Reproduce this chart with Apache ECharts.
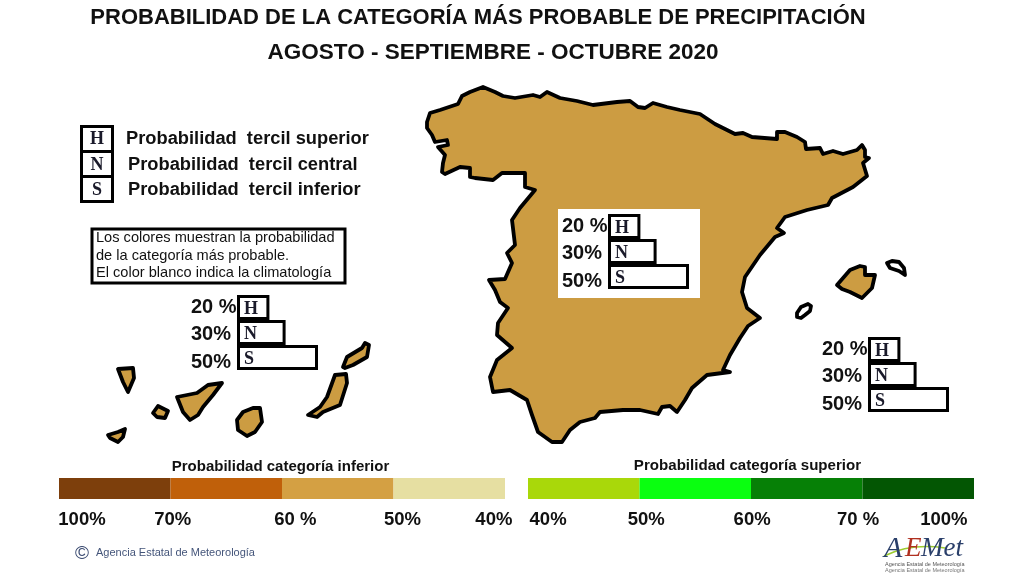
<!DOCTYPE html>
<html>
<head>
<meta charset="utf-8">
<style>
  html, body { margin: 0; padding: 0; background: #fff; }
  #main { width: 1024px; height: 576px; }
</style>
<script src="https://cdn.jsdelivr.net/npm/echarts@6/dist/echarts.min.js"></script>
</head>
<body>
<div id="main"></div>
<script>
// 地图轮廓 outlines
var peninsula = [[427,122],[430,113],[440,110],[458,104],[462,96],[470,92],[483,87],[495,92],[503,96],[515,98],[533,95],[540,97],[547,92],[560,98],[577,101],[593,105],[617,102],[630,101],[638,107],[645,108],[653,103],[667,107],[680,110],[700,114],[715,124],[727,130],[735,134],[743,133],[752,137],[777,139],[777,132],[785,132],[797,137],[805,142],[806,149],[820,148],[823,154],[833,151],[843,154],[857,150],[862,145],[865,150],[865,157],[869,158],[863,163],[867,176],[853,187],[832,198],[828,205],[807,210],[785,217],[777,228],[784,233],[775,237],[760,255],[745,277],[742,292],[747,308],[760,318],[748,326],[740,338],[730,355],[723,370],[730,372],[707,375],[692,388],[685,400],[677,412],[670,406],[662,407],[658,414],[640,410],[623,410],[600,412],[595,418],[580,422],[570,430],[562,442],[552,442],[538,432],[532,415],[527,400],[510,390],[493,392],[490,377],[497,360],[512,348],[497,335],[498,323],[508,308],[500,302],[495,290],[489,280],[505,279],[512,263],[507,253],[515,245],[512,220],[520,208],[535,190],[525,187],[525,173],[502,173],[493,180],[475,178],[470,177],[470,168],[460,167],[445,174],[442,172],[443,163],[445,155],[438,147],[448,145],[447,140],[435,142],[432,135],[427,128]];
var mallorca = [[837,285],[850,270],[860,266],[865,267],[865,275],[875,275],[872,288],[862,298],[850,292],[842,289]];
var menorca = [[887,263],[892,261],[899,262],[904,268],[905,275],[899,271],[890,268]];
var ibiza = [[797,313],[801,307],[808,304],[811,306],[810,311],[805,315],[801,318],[797,317]];
var laPalma = [[118,369],[133,368],[134,378],[128,392],[123,382]];
var tenerife = [[177,397],[197,393],[208,385],[222,383],[213,395],[203,407],[198,415],[190,420],[183,412]];
var gomera = [[158,406],[168,411],[165,418],[157,417],[153,413]];
var hierro = [[108,435],[118,432],[125,429],[123,437],[118,442],[110,438]];
var granCanaria = [[243,412],[253,408],[260,408],[262,422],[255,432],[247,436],[238,430],[237,420]];
var fuerteventura = [[335,375],[346,374],[347,383],[340,405],[323,412],[317,417],[308,415],[320,407],[327,397]];
var lanzarote = [[343,367],[347,357],[362,348],[365,343],[369,345],[367,357],[353,365],[345,368]];

// 概率柱
var tercilLetters = ["H", "N", "S"];
var tercilValues = [20, 30, 50];
var tercilLabels = ["20 %", "30%", "50%"];

// 色标
var lowerTicks = ["100%", "70%", "60 %", "50%", "40%"];
var lowerColors = ["#7d3f0c", "#c0600a", "#d4a043", "#e6dfa2"];
var upperTicks = ["40%", "50%", "60%", "70 %", "100%"];
var upperColors = ["#a9d80a", "#0aff10", "#068006", "#035603"];
var binWidth = [1, 1, 1, 1];

var FONT = '"Liberation Sans", Arial, sans-serif';
var SERIF = '"Liberation Serif", "Times New Roman", serif';
var MAPFILL = "#cc9c42";

function feature(name, points) {
  var ring = points.map(function (p) { return [p[0], 576 - p[1]]; });
  ring.push(ring[0]);
  return { type: "Feature", properties: { name: name }, geometry: { type: "Polygon", coordinates: [ring] } };
}

var shapes = {
  "Peninsula": peninsula, "Mallorca": mallorca, "Menorca": menorca, "Ibiza": ibiza,
  "La Palma": laPalma, "Tenerife": tenerife, "La Gomera": gomera, "El Hierro": hierro,
  "Gran Canaria": granCanaria, "Fuerteventura": fuerteventura, "Lanzarote": lanzarote
};
var names = Object.keys(shapes);
var allPoints = [];
names.forEach(function (n) { allPoints = allPoints.concat(shapes[n]); });
var xs = allPoints.map(function (p) { return p[0]; });
var ys = allPoints.map(function (p) { return p[1]; });
var minX = Math.min.apply(null, xs), maxX = Math.max.apply(null, xs);
var minY = Math.min.apply(null, ys), maxY = Math.max.apply(null, ys);

echarts.registerMap("spain", {
  type: "FeatureCollection",
  features: names.map(function (n) { return feature(n, shapes[n]); })
});

var myChart = echarts.init(document.getElementById("main"));

// 三组 H N S 柱子
var tercilGroups = [
  { left: 237, top: 295 },
  { left: 608, top: 214 },
  { left: 868, top: 337 }
];

// 百分比文字左对齐, 50% 的文字比柱子中心低一点
function pctRich() {
  var base = { fontFamily: FONT, fontWeight: "bold", fontSize: 20, color: "#111", width: 46, align: "left" };
  return {
    r0: Object.assign({}, base),
    r1: Object.assign({}, base, { padding: [3, 0, 0, 0] }),
    r2: Object.assign({}, base, { padding: [9, 0, 0, 0] })
  };
}

var grids = [], xAxes = [], yAxes = [], series = [];

tercilGroups.forEach(function (g, i) {
  grids.push({ left: g.left, top: g.top, width: 81, height: 75 });
  xAxes.push({ type: "value", gridIndex: i, min: 0, max: 50, show: false });
  yAxes.push({
    type: "category", gridIndex: i, inverse: true, z: 3,
    data: tercilLabels,
    axisLine: { show: false }, axisTick: { show: false },
    axisLabel: {
      margin: 0, rich: pctRich(),
      formatter: function (v, k) { return "{r" + k + "|" + v + "}"; }
    }
  });
  series.push({
    type: "bar", xAxisIndex: i, yAxisIndex: i, z: 3,
    barCategoryGap: 0,
    data: tercilValues,
    itemStyle: { color: "#fff", borderColor: "#000", borderWidth: 3 },
    label: {
      show: true, position: "insideLeft", distance: 7, offset: [0, 2],
      fontFamily: SERIF, fontWeight: "bold", fontSize: 18, color: "#1a1a2a",
      formatter: function (p) { return tercilLetters[p.dataIndex]; }
    }
  });
});

// 两条色标
function addScale(index, left, ticks, tickPos, colors) {
  grids.push({ left: left, top: 478, width: 446, height: 21 });
  xAxes.push({
    type: "value", gridIndex: index, min: 0, max: 4,
    axisLine: { show: false }, axisTick: { show: false }, splitLine: { show: false },
    axisLabel: {
      customValues: tickPos, margin: 11, hideOverlap: false,
      fontFamily: FONT, fontWeight: "bold", fontSize: 18.5, color: "#111",
      formatter: function (v) { return ticks[tickPos.indexOf(v)]; }
    }
  });
  yAxes.push({ type: "category", gridIndex: index, data: ["x"], show: false });
  colors.forEach(function (c, k) {
    series.push({
      type: "bar", xAxisIndex: index, yAxisIndex: index, stack: "s" + index,
      barCategoryGap: 0, data: [binWidth[k]], itemStyle: { color: c }
    });
  });
}
addScale(3, 59, lowerTicks, [0.206, 1.02, 2.12, 3.08, 3.9], lowerColors);
addScale(4, 528, upperTicks, [0.18, 1.06, 2.01, 2.96, 3.73], upperColors);

function text(x, y, str, size, opt) {
  opt = opt || {};
  return {
    type: "text", x: x, y: y, z: 5,
    style: {
      text: str, fontFamily: opt.family || FONT, fontSize: size,
      fontWeight: opt.weight || "normal", fontStyle: opt.style || "normal",
      fill: opt.fill || "#111", align: opt.align || "left", verticalAlign: "middle"
    }
  };
}
function box(x, y, w, h, lw) {
  return { type: "rect", z: 4, shape: { x: x, y: y, width: w, height: h }, style: { fill: "#fff", stroke: "#000", lineWidth: lw } };
}

var option = {
  animation: false,
  backgroundColor: "#fff",
  title: [
    { text: "PROBABILIDAD DE LA CATEGORÍA MÁS PROBABLE DE PRECIPITACIÓN", left: 473, top: 2, textAlign: "center",
      textStyle: { fontFamily: FONT, fontWeight: "bold", fontSize: 22, color: "#111" } },
    { text: "AGOSTO - SEPTIEMBRE - OCTUBRE 2020", left: 488, top: 36, textAlign: "center",
      textStyle: { fontFamily: FONT, fontWeight: "bold", fontSize: 22.5, color: "#111" } },
    { text: "Probabilidad categoría inferior", left: 275.5, top: 454, textAlign: "center",
      textStyle: { fontFamily: FONT, fontWeight: "bold", fontSize: 15, color: "#111" } },
    { text: "Probabilidad categoría superior", left: 742.5, top: 453, textAlign: "center",
      textStyle: { fontFamily: FONT, fontWeight: "bold", fontSize: 15.1, color: "#111" } }
  ],
  geo: {
    map: "spain", roam: false, silent: true, aspectScale: 1, z: 0,
    left: minX, top: minY, width: maxX - minX, height: maxY - minY,
    label: { show: false },
    itemStyle: { areaColor: MAPFILL, borderColor: "#000", borderWidth: 3.8, borderJoin: "round" },
    regions: [
      { name: "Menorca", itemStyle: { areaColor: "#fff" } },
      { name: "Ibiza", itemStyle: { areaColor: "#fff" } }
    ]
  },
  grid: grids,
  xAxis: xAxes,
  yAxis: yAxes,
  series: series,
  graphic: { elements: [
    { type: "rect", z: 1, shape: { x: 558, y: 209, width: 142, height: 89 }, style: { fill: "#fff" } },
    // 图例 H N S
    box(81.5, 126.5, 31, 25, 3), box(81.5, 151.5, 31, 25, 3), box(81.5, 176.5, 31, 25, 3),
    text(97, 139, "H", 18, { family: SERIF, weight: "bold", align: "center", fill: "#1a1a2a" }),
    text(97, 165, "N", 18, { family: SERIF, weight: "bold", align: "center", fill: "#1a1a2a" }),
    text(97, 190, "S", 18, { family: SERIF, weight: "bold", align: "center", fill: "#1a1a2a" }),
    text(126, 139, "Probabilidad  tercil superior", 18.3, { weight: "bold" }),
    text(128, 165, "Probabilidad  tercil central", 18.3, { weight: "bold" }),
    text(128, 190, "Probabilidad  tercil inferior", 18.3, { weight: "bold" }),
    // 说明框
    box(92, 229, 253, 54, 3),
    text(96, 238, "Los colores muestran la probabilidad", 14.6),
    text(96, 256, "de la categoría más probable.", 14.6),
    text(96, 273, "El color blanco indica la climatología", 14.6),
    // 页脚
    text(75, 554, "©", 19, { fill: "#3a4a70" }),
    text(96, 553, "Agencia Estatal de Meteorología", 11, { fill: "#44557a" }),
    // AEMET logo
    { type: "bezierCurve", z: 5, shape: { x1: 884, y1: 556, cpx1: 905, cpy1: 546, cpx2: 925, cpy2: 545, x2: 945, y2: 548 }, style: { stroke: "#9ccc30", lineWidth: 1.5, fill: "none" } },
    text(884, 549, "A", 30, { family: SERIF, style: "italic", fill: "#2a3f6a" }),
    text(905, 549, "E", 27, { family: SERIF, style: "italic", fill: "#b03020" }),
    text(921, 549, "Met", 27, { family: SERIF, style: "italic", fill: "#2a3f6a" }),
    text(885, 564, "Agencia Estatal de Meteorología", 5.5, { fill: "#555" }),
    text(885, 570, "Agencia Estatal de Meteorología", 5.5, { fill: "#777" })
  ] }
};

myChart.setOption(option);
window.addEventListener("resize", function () {
  myChart.resize();
});
</script>
</body>
</html>
